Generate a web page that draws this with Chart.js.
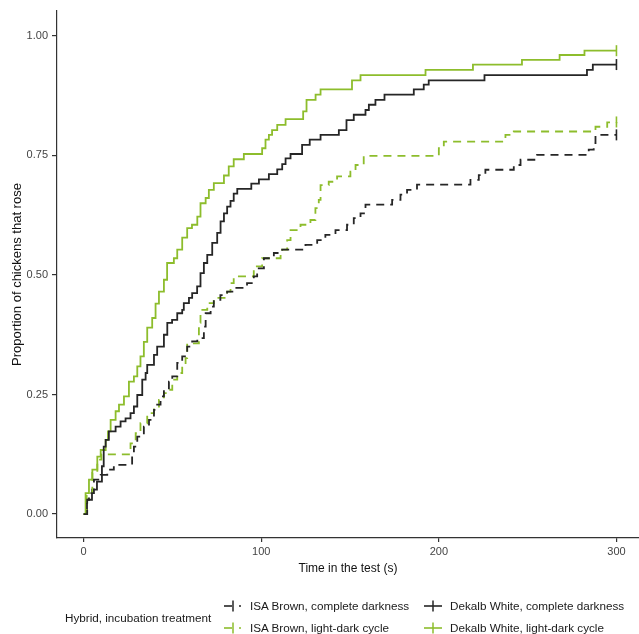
<!DOCTYPE html>
<html lang="en">
<head>
    <meta charset="UTF-8">
    <title>Proportion of chickens that rose</title>
    <script src="https://cdn.jsdelivr.net/npm/chart.js"></script>
    <style>
        html, body { margin: 0; background: #fff; overflow: hidden; }
        #wrap { position: relative; width: 639px; height: 634px; overflow: hidden; }
        #legend { position: absolute; left: 0; top: 0; width: 639px; height: 634px; pointer-events: none;
                  font-family: "Liberation Sans", Arial, sans-serif; font-size: 11.7px; color: #1a1a1a; }
        #legend .t { position: absolute; white-space: nowrap; line-height: 14px; }
    </style>
</head>
<body>
    <div id="wrap">
        <canvas id="survChart" width="639" height="634"></canvas>
        <div id="legend"></div>
    </div>

    <script>
        // Kaplan-Meier style curves: time (s) and proportion that rose
        const ibDarkT = [0, 2, 3, 5.8, 9.6, 13.3, 17, 27.3, 28.3, 30.2, 33.9, 36.8, 39.6, 41.4, 43.3, 45.2, 48, 49.9, 52.7, 55.5, 58.3, 61.1, 64, 67.7, 68.7, 71.5, 73.3, 77, 80.8, 84.5, 92, 95.8, 97.7, 101.5, 107.1, 111.8, 124.9, 131.5, 136.1, 141.8, 148.3, 152.1, 155.9, 158.7, 173.7, 178.4, 182.1, 187.7, 217.8, 222.5, 226.2, 242.2, 246, 255.3, 284.4, 287.2, 288.2, 300];
        const ibDarkP = [0, 0.03, 0.044, 0.072, 0.082, 0.093, 0.103, 0.128, 0.141, 0.162, 0.183, 0.197, 0.218, 0.229, 0.246, 0.26, 0.277, 0.288, 0.316, 0.33, 0.35, 0.361, 0.368, 0.392, 0.42, 0.434, 0.448, 0.458, 0.465, 0.473, 0.483, 0.497, 0.514, 0.535, 0.546, 0.553, 0.563, 0.573, 0.584, 0.594, 0.605, 0.619, 0.629, 0.647, 0.657, 0.668, 0.678, 0.689, 0.699, 0.709, 0.72, 0.73, 0.741, 0.751, 0.762, 0.776, 0.793, 0.793];

        const ibLightT = [0, 1.7, 4.9, 7.7, 10, 26.4, 29.3, 32, 35.8, 39.6, 42.4, 45.2, 47, 49.9, 52.7, 55.5, 57.4, 58.3, 64.9, 65.8, 69.6, 73.3, 80.8, 82.7, 84.5, 95.8, 100.5, 110.9, 114.6, 116.5, 122.1, 127.7, 130.5, 132.4, 133.4, 138, 142.7, 150.2, 153.1, 157.7, 200, 202.8, 237.5, 242.2, 288.2, 294.8, 300];
        const ibLightP = [0, 0.044, 0.086, 0.114, 0.125, 0.148, 0.169, 0.19, 0.211, 0.225, 0.239, 0.253, 0.26, 0.281, 0.295, 0.312, 0.326, 0.357, 0.4, 0.427, 0.441, 0.452, 0.465, 0.483, 0.497, 0.518, 0.535, 0.553, 0.573, 0.594, 0.605, 0.615, 0.64, 0.657, 0.688, 0.695, 0.706, 0.716, 0.73, 0.749, 0.765, 0.779, 0.793, 0.80, 0.81, 0.819, 0.82];

        const dwDarkT = [0, 1.9, 4.7, 7.5, 10.3, 11.3, 12.4, 14.2, 18, 20.8, 23.6, 26.4, 28.3, 30.2, 33, 34.9, 35.8, 39.6, 41.4, 45.2, 47.1, 49.8, 52.7, 55.5, 56.4, 59.3, 61.1, 63.9, 65.8, 67.7, 69.6, 72.4, 75.2, 77.1, 79, 80.8, 82.7, 84.5, 86.5, 94.4, 98.7, 104.3, 109, 111.8, 113.7, 116.5, 123, 127.3, 133.4, 143.7, 148, 152.1, 158.7, 160.6, 164.3, 169.4, 185.9, 191.5, 194.3, 225.7, 283.4, 286.7, 300];
        const dwDarkP = [0, 0.03, 0.051, 0.068, 0.1, 0.141, 0.155, 0.173, 0.183, 0.194, 0.2, 0.211, 0.225, 0.249, 0.281, 0.295, 0.312, 0.333, 0.35, 0.375, 0.4, 0.406, 0.42, 0.427, 0.441, 0.452, 0.462, 0.476, 0.504, 0.525, 0.542, 0.567, 0.588, 0.612, 0.629, 0.643, 0.655, 0.67, 0.68, 0.691, 0.70, 0.711, 0.721, 0.732, 0.744, 0.753, 0.772, 0.783, 0.793, 0.803, 0.824, 0.835, 0.845, 0.856, 0.866, 0.877, 0.888, 0.898, 0.907, 0.918, 0.929, 0.94, 0.94];

        const dwLightT = [0, 1.1, 3, 4.9, 7.7, 9.6, 12.4, 13.7, 15.2, 18, 19.9, 22.7, 25.5, 28.3, 30.2, 32, 33.9, 35.8, 38.6, 40.5, 42.4, 45.2, 47, 50.8, 52.7, 55.5, 58.3, 61, 64, 65.8, 68.7, 70.5, 73.3, 79, 81.7, 84.5, 90.2, 100.5, 102.4, 104.3, 106.1, 109, 113.7, 123.6, 125.5, 130.6, 133.4, 151.1, 155.9, 192.5, 219.2, 246.8, 268, 282, 300];
        const dwLightP = [0, 0.044, 0.072, 0.093, 0.12, 0.134, 0.155, 0.173, 0.197, 0.215, 0.229, 0.246, 0.277, 0.288, 0.309, 0.33, 0.36, 0.39, 0.41, 0.44, 0.465, 0.49, 0.525, 0.535, 0.553, 0.578, 0.598, 0.605, 0.622, 0.65, 0.661, 0.678, 0.692, 0.708, 0.727, 0.742, 0.753, 0.765, 0.783, 0.793, 0.803, 0.814, 0.826, 0.842, 0.866, 0.877, 0.888, 0.907, 0.918, 0.929, 0.94, 0.95, 0.96, 0.969, 0.969];

        const seriesNames = ["ISA Brown, complete darkness", "ISA Brown, light-dark cycle", "Dekalb White, complete darkness", "Dekalb White, light-dark cycle"];
        const xTicks = [0, 100, 200, 300];
        const yTicks = [0, 0.25, 0.5, 0.75, 1];

        const GREEN = '#8dbd2c';
        const BLACK = '#262626';
        const FONT = '"Liberation Sans", Arial, sans-serif';

        function toPoints(ts, ps) {
            return ts.map((t, i) => ({ x: t, y: ps[i] }));
        }

        // censor tick only on the last point
        function makeSet(label, ts, ps, color, dashed) {
            const n = ts.length;
            return {
                label: label,
                data: toPoints(ts, ps),
                borderColor: color,
                backgroundColor: color,
                borderWidth: 1.8,
                borderDash: dashed ? [8, 6] : [],
                stepped: 'before',
                fill: false,
                pointStyle: 'line',
                pointRotation: 90,
                pointBorderWidth: 1.6,
                pointBorderColor: color,
                pointRadius: ctx => ctx.dataIndex === n - 1 ? 5.5 : 0,
                pointHoverRadius: 0
            };
        }

        const ctx = document.getElementById('survChart').getContext('2d');
        new Chart(ctx, {
            type: 'line',
            data: {
                datasets: [
                    makeSet(seriesNames[0], ibDarkT, ibDarkP, BLACK, true),
                    makeSet(seriesNames[1], ibLightT, ibLightP, GREEN, true),
                    makeSet(seriesNames[2], dwDarkT, dwDarkP, BLACK, false),
                    makeSet(seriesNames[3], dwLightT, dwLightP, GREEN, false)
                ]
            },
            options: {
                responsive: false,
                animation: false,
                clip: false,
                layout: { autoPadding: false, padding: { top: 11, right: 0, bottom: 56, left: 0 } },
                plugins: { legend: { display: false }, tooltip: { enabled: false } },
                scales: {
                    x: {
                        type: 'linear',
                        min: -15,
                        max: 312.7,
                        afterBuildTicks: s => { s.ticks = xTicks.map(v => ({ value: v })); },
                        afterFit: s => { s.height = 40; s.paddingLeft = 0; s.paddingRight = 0; },
                        grid: { drawOnChartArea: false, drawTicks: true, tickLength: 4, color: '#333', lineWidth: 1.2 },
                        border: { display: true, color: '#333', width: 1.2 },
                        ticks: { font: { family: FONT, size: 11 }, color: '#444', padding: 3, maxRotation: 0 },
                        title: { display: true, text: 'Time in the test (s)', font: { family: FONT, size: 12 }, color: '#111', padding: { top: 0, bottom: 2.5 } }
                    },
                    y: {
                        min: -0.05,
                        max: 1.052,
                        afterBuildTicks: s => { s.ticks = yTicks.map(v => ({ value: v })); },
                        afterFit: s => { s.width = 57; s.paddingTop = 0; s.paddingBottom = 0; },
                        grid: { drawOnChartArea: false, drawTicks: true, tickLength: 5, color: '#333', lineWidth: 1.2 },
                        border: { display: true, color: '#333', width: 1.2 },
                        ticks: { font: { family: FONT, size: 11 }, color: '#444', padding: 4, callback: v => v.toFixed(2) },
                        title: { display: true, text: 'Proportion of chickens that rose', font: { family: FONT, size: 13 }, color: '#111', padding: { top: 10, bottom: 0 } }
                    }
                }
            }
        });

        // ggplot-style legend below the plot
        function keySvg(color, dashed) {
            const h = dashed
                ? '<line x1="0" y1="7" x2="8" y2="7" stroke="' + color + '" stroke-width="1.6"/><line x1="15" y1="7" x2="17" y2="7" stroke="' + color + '" stroke-width="1.6"/>'
                : '<line x1="0" y1="7" x2="18" y2="7" stroke="' + color + '" stroke-width="1.6"/>';
            return '<svg width="18" height="14" style="display:block">' + h + '<line x1="9" y1="1.5" x2="9" y2="12.5" stroke="' + color + '" stroke-width="1.5"/></svg>';
        }

        const legend = document.getElementById('legend');
        const cols = [224, 424];
        const rows = [606, 628];
        const keys = [[BLACK, true], [GREEN, true], [BLACK, false], [GREEN, false]];
        let html = '<div class="t" style="left:65px;top:611px">Hybrid, incubation treatment</div>';
        seriesNames.forEach((name, i) => {
            const c = Math.floor(i / 2), r = i % 2;
            html += '<span style="position:absolute;left:' + cols[c] + 'px;top:' + (rows[r] - 7) + 'px">' + keySvg(keys[i][0], keys[i][1]) + '</span>';
            html += '<div class="t" style="left:' + (cols[c] + 26) + 'px;top:' + (rows[r] - 7) + 'px">' + name + '</div>';
        });
        legend.innerHTML = html;
    </script>
</body>
</html>
